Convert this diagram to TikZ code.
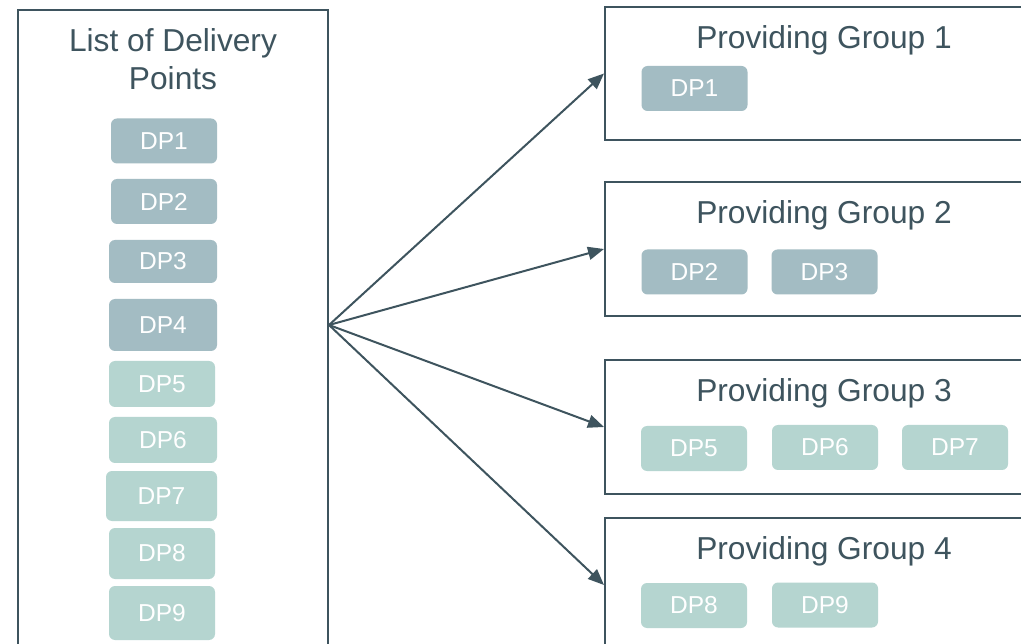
\documentclass[tikz,border=0pt]{standalone}
\usepackage{fontspec}
\setmainfont{Liberation Sans}
\usetikzlibrary{arrows.meta}
\definecolor{dark}{RGB}{62,84,94}
\definecolor{dpblue}{RGB}{163,188,195}
\definecolor{dpgreen}{RGB}{181,213,208}
\tikzset{
  frame/.style={draw=dark, line width=2pt, fill=white, inner sep=0pt},
  title/.style={text=dark, font=\fontsize{31.7}{38.5}\selectfont, inner sep=0pt, anchor=base},
  dpbox/.style={rounded corners=6pt, text=white, font=\fontsize{24.5}{28}\selectfont, inner sep=0pt, minimum width=106pt, minimum height=45pt},
  dpa/.style={dpbox, fill=dpblue},
  dpb/.style={dpbox, fill=dpgreen},
  conn/.style={draw=dark, line width=2pt, -{Triangle[length=16pt,width=13pt]}}
}
\begin{document}
\begin{tikzpicture}[x=1pt,y=-1pt]
\useasboundingbox (0,0) rectangle (1021,644);
\clip (0,0) rectangle (1021,644);
% left list
\node[frame, minimum width=310pt, minimum height=700pt] (list) at (173,360) {};
\node[title, align=center, anchor=north] (listtitle) at (173,28) {List of Delivery\\Points};
\node[dpa, minimum width=106pt, minimum height=45pt] (l1) at (164,141) {DP1};
\node[dpa, minimum width=106pt, minimum height=45pt] (l2) at (164,201.5) {DP2};
\node[dpa, minimum width=108pt, minimum height=43pt] (l3) at (163,261.5) {DP3};
\node[dpa, minimum width=108pt, minimum height=52pt] (l4) at (163,325) {DP4};
\node[dpb, minimum width=106pt, minimum height=46pt] (l5) at (162,384) {DP5};
\node[dpb, minimum width=108pt, minimum height=46pt] (l6) at (163,440) {DP6};
\node[dpb, minimum width=111pt, minimum height=50pt] (l7) at (161.5,496) {DP7};
\node[dpb, minimum width=106pt, minimum height=51pt] (l8) at (162,553.5) {DP8};
\node[dpb, minimum width=106pt, minimum height=54pt] (l9) at (162,613) {DP9};
% groups
\node[frame, minimum width=440pt, minimum height=133pt] (g1) at (825,73.5) {};
\node[frame, minimum width=440pt, minimum height=134pt] (g2) at (825,249) {};
\node[frame, minimum width=440pt, minimum height=134pt] (g3) at (825,427) {};
\node[frame, minimum width=440pt, minimum height=134pt] (g4) at (825,585) {};
\node[title] (t1) at (824,49) {Providing Group 1};
\node[title] (t2) at (824,224) {Providing Group 2};
\node[title] (t3) at (824,402) {Providing Group 3};
\node[title] (t4) at (824,559) {Providing Group 4};
\node[dpa] (a1) at (694.5,88.5) {DP1};
\node[dpa] (b2) at (694.5,272) {DP2};
\node[dpa] (b3) at (824.5,272) {DP3};
\node[dpb] (c5) at (694,448.5) {DP5};
\node[dpb] (c6) at (825,447.5) {DP6};
\node[dpb] (c7) at (955,447.5) {DP7};
\node[dpb] (d8) at (694,605.5) {DP8};
\node[dpb] (d9) at (825,605) {DP9};
% connectors
\coordinate (hub) at (list.east |- l4);
\draw[conn] (hub) -- (g1.west);
\draw[conn] (hub) -- (g2.west);
\draw[conn] (hub) -- (g3.west);
\draw[conn] (hub) -- (g4.west);
\end{tikzpicture}
\end{document}
